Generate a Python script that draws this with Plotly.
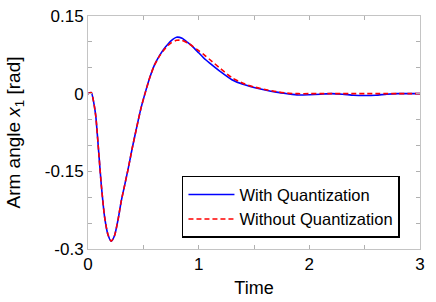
import plotly.graph_objects as go

t = [0, 0.03, 0.05, 0.07, 0.1, 0.12, 0.15, 0.18, 0.21, 0.24, 0.27, 0.3, 0.33, 0.36,
     0.4, 0.44, 0.48, 0.52, 0.56, 0.6, 0.65, 0.7, 0.75, 0.8, 0.85, 0.9, 0.95, 1.0,
     1.05, 1.1, 1.2, 1.3, 1.4, 1.5, 1.6, 1.7, 1.8, 1.9, 2.0, 2.1, 2.2, 2.3, 2.4,
     2.5, 2.6, 2.7, 2.8, 2.9, 3.0]

with_quant = [0, 0.002, -0.015, -0.043, -0.122, -0.176, -0.238, -0.272, -0.285, -0.274,
              -0.245, -0.208, -0.178, -0.148, -0.105, -0.065, -0.027, 0.004, 0.032, 0.055,
              0.075, 0.090, 0.102, 0.109, 0.107, 0.099, 0.090, 0.079, 0.068, 0.059,
              0.042, 0.027, 0.018, 0.012, 0.007, 0.003, 0.000, -0.0025, -0.002, -0.001,
              0.0, -0.001, -0.003, -0.0035, -0.003, -0.001, 0.0, 0.0, 0.0]

without_quant = [0, 0.002, -0.015, -0.043, -0.122, -0.176, -0.238, -0.272, -0.285, -0.274,
                 -0.245, -0.208, -0.178, -0.148, -0.105, -0.065, -0.027, 0.004, 0.032, 0.055,
                 0.074, 0.088, 0.098, 0.103, 0.103, 0.098, 0.091, 0.083, 0.075, 0.066,
                 0.048, 0.031, 0.020, 0.013, 0.008, 0.004, 0.001, 0.0, 0.0, 0.0,
                 0.0, 0.0, 0.0, 0.0, 0.0, 0.0, 0.0, 0.0, 0.0]

x_ticks = [0, 1, 2, 3]
x_ticklabels = ["0", "1", "2", "3"]
y_ticks = [0.15, 0, -0.15, -0.3]
y_ticklabels = ["0.15", "0", "-0.15", "-0.3"]

font = "Liberation Sans, Arial, Helvetica, sans-serif"

fig = go.Figure()
fig.add_trace(go.Scatter(x=t, y=with_quant, mode="lines", name="With Quantization",
                         line=dict(color="#0000ff", width=1.6, shape="spline", smoothing=0.6)))
fig.add_trace(go.Scatter(x=t, y=without_quant, mode="lines", name="Without Quantization",
                         line=dict(color="#ff0000", width=1.6, dash="5px,3px", shape="spline", smoothing=0.6)))

axis_common = dict(showgrid=False, zeroline=False, showline=True, linecolor="#c4c4c4",
                   linewidth=1, mirror="ticks", ticks="inside", ticklen=4, automargin=False,
                   tickcolor="#b0b0b0", tickfont=dict(size=17, color="black", family=font))

fig.update_layout(
    width=436, height=302,
    margin=dict(l=88, r=16, t=16, b=53),
    paper_bgcolor="white", plot_bgcolor="white",
    font=dict(family=font, color="black"),
    xaxis=dict(range=[0, 3], tickvals=x_ticks, ticktext=x_ticklabels,
               minor=dict(dtick=0.5, tick0=0, ticks="inside", ticklen=4, tickcolor="#b0b0b0"),
               title=dict(text="Time", font=dict(size=18), standoff=7), **axis_common),
    yaxis=dict(range=[-0.3, 0.15], tickvals=y_ticks, ticktext=y_ticklabels,
               minor=dict(dtick=0.05, tick0=0, ticks="inside", ticklen=4, tickcolor="#b0b0b0"),
               title=dict(text="Arm angle <i>x</i><sub>1</sub> [rad]", font=dict(size=19), standoff=19),
               **axis_common),
    legend=dict(x=0.283, y=0.048, xanchor="left", yanchor="bottom",
                bgcolor="white", bordercolor="black", borderwidth=1.5,
                font=dict(size=16.5, family=font, color="black"),
                tracegroupgap=0, itemwidth=46),
    showlegend=True,
)

fig.write_html("out.html", config={"displayModeBar": False},
               post_script="document.body.style.margin='0';")
